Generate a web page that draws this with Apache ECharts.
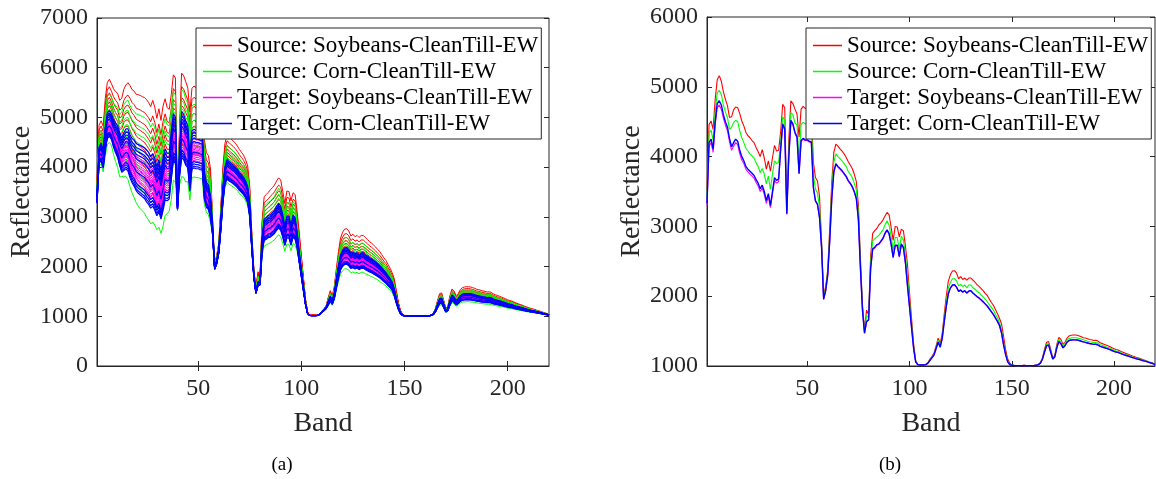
<!DOCTYPE html>
<html><head><meta charset="utf-8">
<script src="https://cdn.jsdelivr.net/npm/echarts@6/dist/echarts.min.js"></script>
<style>html,body{margin:0;padding:0;background:#fff}#c{width:1156px;height:479px}</style>
</head><body><div id="c"></div>
<script>
// ---------- data ----------
const seriesNames = ['Source: Soybeans-CleanTill-EW','Source: Corn-CleanTill-EW','Target: Soybeans-CleanTill-EW','Target: Corn-CleanTill-EW'];
const seriesColors = ['#ff0000','#00ff00','#ff00ff','#0000ff'];
const bands = Array.from({length:220},(_,i)=>i+1);
const xTicks = [50,100,150,200];
const yTicksA = [0,1000,2000,3000,4000,5000,6000,7000];
const yTicksB = [1000,2000,3000,4000,5000,6000];

// class-mean spectra (panel b)
const meanSrcSoy = [
3520,4460,4510,4390,4820,5100,5160,5080,4930,4820,
4730,4560,4570,4670,4710,4700,4620,4510,4440,4350,
4300,4270,4230,4200,4130,4070,4000,4100,3980,3820,
3940,3790,3980,4160,4080,4090,4350,4750,4700,3230,
4240,4800,4760,4680,4610,4280,4680,4720,4690,4690,
4670,4660,3920,3700,3650,3430,2790,2010,2140,2370,
2980,3640,4060,4180,4150,4110,4080,4040,3990,3930,
3880,3830,3750,3640,3310,2540,1880,1520,1800,1740,
2580,2900,2940,2970,3020,3050,3090,3150,3200,3170,
2990,2800,3000,2990,2850,2960,2940,2720,2450,2050,
1680,1320,1080,1025,1020,1020,1020,1025,1050,1100,
1140,1190,1290,1400,1320,1470,1750,2010,2220,2310,
2360,2365,2330,2250,2280,2240,2260,2230,2260,2260,
2230,2200,2165,2140,2110,2080,2040,2010,1960,1910,
1870,1810,1750,1680,1600,1420,1230,1100,1040,1015,
1010,1008,1007,1007,1008,1009,1007,1006,1007,1008,
1009,1012,1025,1050,1120,1240,1340,1350,1240,1120,
1150,1310,1410,1380,1310,1340,1400,1430,1440,1445,
1445,1440,1430,1420,1405,1400,1390,1380,1375,1365,
1368,1360,1336,1324,1313,1301,1289,1277,1262,1248,
1236,1230,1215,1201,1189,1177,1168,1153,1142,1132,
1120,1113,1104,1092,1083,1073,1061,1051,1041,1024];
const meanSrcCorn = [
3420,4330,4380,4230,4640,4910,4950,4890,4740,4640,
4560,4390,4420,4490,4520,4500,4370,4270,4200,4120,
4080,4040,4010,3980,3910,3860,3770,3830,3750,3610,
3720,3530,3750,3940,3900,3920,4190,4570,4520,3200,
4090,4630,4600,4480,4450,3960,4460,4490,4470,4470,
4450,4440,3740,3540,3480,3280,2750,1990,2110,2340,
2890,3520,3920,4040,4000,3970,3940,3900,3860,3790,
3750,3700,3620,3520,3200,2470,1840,1500,1720,1700,
2490,2790,2820,2850,2870,2910,2950,3020,3080,3020,
2860,2660,2840,2840,2670,2860,2810,2580,2280,1930,
1600,1280,1070,1020,1015,1015,1015,1020,1045,1090,
1130,1170,1270,1370,1290,1430,1690,1920,2120,2200,
2250,2250,2220,2150,2170,2140,2160,2120,2160,2160,
2120,2100,2070,2050,2020,1990,1960,1920,1880,1840,
1800,1740,1690,1620,1510,1330,1180,1070,1025,1012,
1009,1007,1006,1006,1007,1008,1006,1005,1006,1007,
1008,1011,1022,1045,1110,1220,1310,1320,1220,1110,
1140,1280,1380,1350,1280,1310,1370,1395,1400,1405,
1405,1400,1395,1385,1375,1365,1355,1348,1343,1335,
1337,1330,1308,1297,1286,1275,1265,1254,1240,1227,
1216,1211,1197,1184,1173,1162,1153,1140,1130,1121,
1110,1104,1095,1084,1076,1067,1056,1046,1038,1022];
const meanTgtSoy = [
3300,4150,4200,4060,4450,4700,4740,4680,4550,4450,
4370,4210,4090,4150,4200,4170,4040,3950,3900,3820,
3780,3750,3720,3690,3630,3580,3500,3550,3460,3330,
3430,3270,3460,3660,3620,3640,4080,4450,4380,3170,
3990,4500,4450,4330,4270,3750,4220,4250,4230,4230,
4210,4200,3550,3360,3310,3120,2690,1950,2070,2290,
2790,3390,3770,3890,3850,3820,3790,3750,3710,3650,
3610,3560,3490,3390,3090,2390,1800,1470,1630,1660,
2390,2670,2690,2730,2740,2780,2820,2890,2940,2890,
2740,2550,2720,2720,2560,2740,2690,2470,2140,1840,
1540,1250,1060,1020,1015,1015,1015,1020,1040,1080,
1120,1160,1250,1340,1270,1400,1640,1855,2035,2115,
2155,2160,2125,2065,2085,2055,2075,2040,2070,2075,
2040,2015,1990,1970,1945,1915,1885,1855,1815,1775,
1735,1685,1635,1575,1465,1300,1160,1060,1020,1010,
1008,1006,1005,1005,1006,1007,1005,1004,1005,1006,
1007,1010,1020,1040,1100,1200,1290,1300,1200,1100,
1130,1260,1350,1320,1260,1290,1340,1365,1370,1373,
1373,1370,1362,1352,1343,1336,1328,1320,1316,1308,
1310,1303,1283,1273,1263,1253,1243,1233,1220,1208,
1198,1193,1180,1168,1158,1148,1140,1128,1118,1110,
1100,1094,1086,1077,1069,1061,1051,1042,1034,1020];
const meanTgtCorn = [
3330,4200,4250,4110,4500,4760,4800,4740,4600,4500,
4420,4260,4140,4200,4250,4220,4090,4000,3940,3860,
3820,3790,3760,3730,3670,3620,3540,3590,3500,3370,
3470,3300,3500,3700,3660,3680,4100,4470,4400,3180,
4000,4520,4470,4350,4280,3760,4230,4260,4240,4240,
4220,4210,3560,3370,3320,3130,2700,1960,2080,2300,
2800,3400,3780,3900,3860,3830,3800,3760,3720,3660,
3620,3570,3500,3400,3100,2400,1800,1470,1640,1660,
2400,2680,2700,2740,2750,2790,2830,2900,2950,2900,
2750,2560,2730,2730,2570,2750,2700,2480,2150,1850,
1550,1250,1060,1020,1015,1015,1015,1020,1040,1080,
1120,1160,1250,1340,1270,1400,1640,1860,2040,2120,
2160,2165,2130,2070,2090,2060,2080,2045,2075,2080,
2045,2020,1995,1975,1950,1920,1890,1860,1820,1780,
1740,1690,1640,1580,1470,1300,1160,1060,1020,1010,
1008,1006,1005,1005,1006,1007,1005,1004,1005,1006,
1007,1010,1020,1040,1100,1200,1290,1300,1200,1100,
1130,1260,1350,1320,1260,1290,1340,1365,1372,1375,
1375,1373,1365,1355,1345,1338,1330,1322,1318,1310,
1312,1305,1285,1275,1265,1255,1245,1235,1222,1210,
1200,1195,1182,1170,1160,1150,1142,1130,1120,1112,
1102,1096,1088,1078,1070,1062,1052,1043,1035,1020];

// per-band spread of the individual samples (panel a, reflectance units for unit deviation)
const sampleSpread = [
186,384,423,435,560,602,608,598,648,700,
752,782,816,896,943,998,1020,1050,1088,1115,
1156,1172,1187,1201,1228,1231,1219,1243,1225,1161,
1235,1150,1250,1215,1117,1072,1116,1107,1094,109,
600,1091,1076,1039,984,828,904,913,907,907,
902,899,640,593,580,533,170,48,86,104,
216,360,417,464,458,453,448,442,435,426,
419,411,400,384,315,140,64,38,96,99,
350,504,510,522,525,537,549,570,585,570,
525,468,519,519,471,525,510,370,230,170,
110,25,6,2,2,2,2,2,4,8,
12,16,85,116,92,136,218,292,354,381,
394,396,384,364,371,360,367,355,366,367,
355,347,338,332,323,313,303,292,279,265,
252,235,218,197,160,102,54,20,7,3,
1,1,1,1,1,1,1,1,1,1,
1,1,8,16,40,80,116,120,80,40,
52,104,140,128,104,116,136,146,149,150,
150,149,146,142,138,135,132,129,127,124,
125,122,114,110,106,102,98,94,89,84,
80,78,73,68,64,60,57,52,48,45,
41,38,35,31,28,25,21,17,14,8];

// deviations of each drawn sample curve (panel a), read from the bundle
const devSrcSoy = [1.0,0.75,0.55,0.4,0.25,0.12,0.0,-0.15,-0.3,-0.5];
const devSrcCorn = [0.85,0.65,0.5,0.35,0.22,0.1,-0.05,-0.2,-0.4,-0.75];
const devTgtSoy = [-0.12,-0.08,-0.04,0,0.03,0.06,0.09,0.12,0.15,0.18,0.22,0.26,0.3,0.35];
const devTgtCorn = [-0.3,-0.26,-0.21,-0.16,0.05,0.28,0.36,0.42,0.48,0.55];

// ---------- chart ----------
const means = [meanSrcSoy, meanSrcCorn, meanTgtSoy, meanTgtCorn];
const devs = [devSrcSoy, devSrcCorn, devTgtSoy, devTgtCorn];
const FONT = 'Liberation Serif';
const TXT = '#262626';
const plain = v => String(v);

function mkX(gi, pos, main){
  return {type:'value', gridIndex:gi, position:pos, min:1, max:220,
    axisLine:{show:main, lineStyle:{color:TXT, width:1}},
    splitLine:{show:false},
    axisTick:{show:true, inside:true, length:5, customValues:xTicks, lineStyle:{color:TXT}},
    axisLabel:{show:main, customValues:xTicks, formatter:plain,
      fontFamily:FONT, fontSize:24, color:TXT, margin:11,
      textStyle:{fontFamily:FONT, fontSize:24, color:TXT}},
    name: main ? 'Band' : '', nameLocation:'middle', nameGap:44,
    nameTextStyle:{fontFamily:FONT, fontSize:28, color:TXT}};
}
function mkY(gi, pos, main, ticks){
  return {type:'value', gridIndex:gi, position:pos, min:ticks[0], max:ticks[ticks.length-1], interval:1000,
    axisLine:{show:main, lineStyle:{color:TXT, width:1}},
    splitLine:{show:false},
    axisTick:{show:true, inside:true, length:5, lineStyle:{color:TXT}},
    axisLabel:{show:main, formatter:plain, fontFamily:FONT, fontSize:24, color:TXT, margin:9,
      textStyle:{fontFamily:FONT, fontSize:24, color:TXT}},
    name: main ? 'Reflectance' : '', nameLocation:'middle', nameGap:59, nameRotate:90,
    nameTextStyle:{fontFamily:FONT, fontSize:28, color:TXT}};
}

const series = [];
// panel (a): individual sample curves
for (let c = 0; c < 4; c++) {
  devs[c].forEach(d => {
    series.push({type:'line', name:seriesNames[c], xAxisIndex:0, yAxisIndex:0,
      symbol:'none', showSymbol:false, silent:true, animation:false,
      lineStyle:{color:seriesColors[c], width: c===3 ? 1.2 : 1},
      itemStyle:{color:seriesColors[c]},
      data: bands.map((b,i)=>[b, means[c][i] + d*sampleSpread[i]])});
  });
}
// panel (b): class means
for (let c = 0; c < 4; c++) {
  series.push({type:'line', name:seriesNames[c], xAxisIndex:2, yAxisIndex:2,
    symbol:'none', showSymbol:false, silent:true, animation:false,
    lineStyle:{color:seriesColors[c], width: c===3 ? 1.4 : 1.1},
    itemStyle:{color:seriesColors[c]},
    data: bands.map((b,i)=>[b, means[c][i]])});
}

function legend(left){
  return {data:seriesNames, orient:'vertical', left:left, top:28, padding:[6,3,4,7],
    itemGap:3, itemWidth:29, itemHeight:1.5, icon:'rect', selectedMode:false,
    backgroundColor:'#fff', borderColor:TXT, borderWidth:1,
    textStyle:{fontFamily:FONT, fontSize:23, color:'#000'}};
}

const option = {
  backgroundColor:'#fff',
  animation:false,
  textStyle:{fontFamily:FONT},
  grid:[
    {left:97, top:18, right:607, bottom:113, show:true, borderColor:TXT, borderWidth:1, backgroundColor:'#fff'},
    {left:707, top:17, right:1, bottom:113, show:true, borderColor:TXT, borderWidth:1, backgroundColor:'#fff'}
  ],
  xAxis:[mkX(0,'bottom',true), mkX(0,'top',false), mkX(1,'bottom',true), mkX(1,'top',false)],
  yAxis:[mkY(0,'left',true,yTicksA), mkY(0,'right',false,yTicksA), mkY(1,'left',true,yTicksB), mkY(1,'right',false,yTicksB)],
  legend:[legend(196), legend(806)],
  series: series,
  graphic:[
    {type:'text', x:282, y:465, style:{text:'(a)', font:'19px "Liberation Serif"', fill:'#000', align:'center', verticalAlign:'middle', textAlign:'center', textVerticalAlign:'middle'}},
    {type:'text', x:890, y:465, style:{text:'(b)', font:'19px "Liberation Serif"', fill:'#000', align:'center', verticalAlign:'middle', textAlign:'center', textVerticalAlign:'middle'}}
  ]
};
const chart = echarts.init(document.getElementById('c'), null, {renderer:'canvas'});
chart.setOption(option);
</script>
</body></html>
